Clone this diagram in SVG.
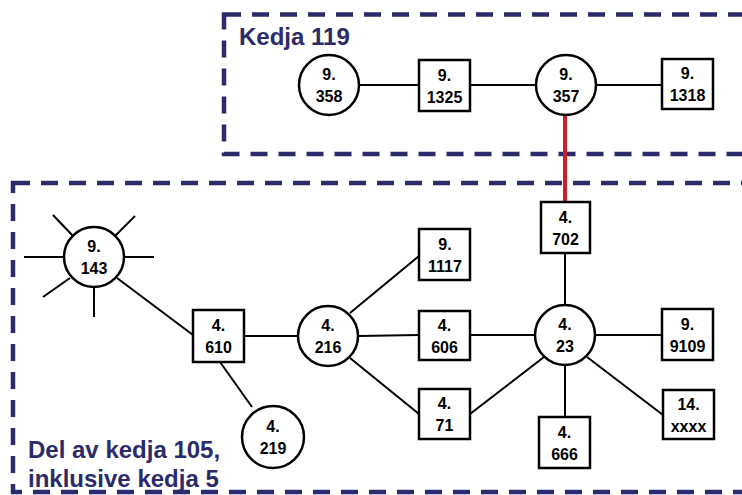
<svg xmlns="http://www.w3.org/2000/svg" width="742" height="495" viewBox="0 0 742 495">
<style>
.frame{fill:none;stroke:#2b2a6a;stroke-width:4.5;stroke-dasharray:17 11}
.lbl{font-family:"Liberation Sans",Arial,sans-serif;font-weight:bold;font-size:24px;fill:#2b2a6a}
.nd{fill:#fff;stroke:#000;stroke-width:2.5}
.t{font-family:"Liberation Sans",Arial,sans-serif;font-weight:bold;font-size:16px;fill:#000;text-anchor:middle}
.c line{stroke:#000;stroke-width:2}
.c line.red{stroke:#c8202a;stroke-width:4}
</style>
<rect width="742" height="495" fill="#fff"/>
<g id="frames">
<rect class="frame" x="224" y="14.5" width="540" height="139.5"/>
<rect class="frame" x="13" y="183" width="760" height="309"/>
<text class="lbl" x="239" y="45">Kedja 119</text>
<text class="lbl" x="28" y="458">Del av kedja 105,</text>
<text class="lbl" x="28" y="487">inklusive kedja 5</text>
</g>
<g id="connectors" class="c">
<line x1="359" y1="85" x2="419" y2="85"/>
<line x1="470" y1="85" x2="536" y2="85"/>
<line x1="596" y1="85" x2="662" y2="85"/>
<line class="red" x1="565" y1="115" x2="565" y2="202"/>
<line x1="24" y1="257" x2="64" y2="257"/>
<line x1="124" y1="257" x2="154" y2="257"/>
<line x1="94" y1="287" x2="94" y2="317"/>
<line x1="53" y1="215" x2="73" y2="236"/>
<line x1="135" y1="216" x2="115" y2="236"/>
<line x1="43" y1="297" x2="70" y2="278"/>
<line x1="117" y1="278" x2="193" y2="335"/>
<line x1="244" y1="336" x2="298" y2="336"/>
<line x1="220" y1="362" x2="252" y2="407"/>
<line x1="350" y1="313" x2="419" y2="256"/>
<line x1="358" y1="336" x2="419" y2="335"/>
<line x1="350" y1="358" x2="419" y2="414"/>
<line x1="470" y1="335" x2="535" y2="335"/>
<line x1="470" y1="414" x2="544" y2="357"/>
<line x1="565" y1="305" x2="565" y2="253"/>
<line x1="595" y1="335" x2="662" y2="335"/>
<line x1="565" y1="365" x2="565" y2="417"/>
<line x1="587" y1="357" x2="663" y2="415"/>
</g>
<g id="n9_358"><circle class="nd" cx="329" cy="85" r="30"/><text class="t" x="329" y="80">9.</text><text class="t" x="329" y="102">358</text></g>
<g id="n9_1325"><rect class="nd" x="419" y="60" width="51" height="51"/><text class="t" x="444.5" y="80.5">9.</text><text class="t" x="444.5" y="102.5">1325</text></g>
<g id="n9_357"><circle class="nd" cx="566" cy="85" r="30"/><text class="t" x="566" y="80">9.</text><text class="t" x="566" y="102">357</text></g>
<g id="n9_1318"><rect class="nd" x="662" y="59" width="51" height="50"/><text class="t" x="687.5" y="79">9.</text><text class="t" x="687.5" y="101">1318</text></g>
<g id="n4_702"><rect class="nd" x="541" y="202" width="49" height="51"/><text class="t" x="565.5" y="223">4.</text><text class="t" x="565.5" y="245">702</text></g>
<g id="n9_143"><circle class="nd" cx="94" cy="257" r="30"/><text class="t" x="94" y="252">9.</text><text class="t" x="94" y="274">143</text></g>
<g id="n4_610"><rect class="nd" x="193" y="310" width="51" height="52"/><text class="t" x="218.5" y="331">4.</text><text class="t" x="218.5" y="353">610</text></g>
<g id="n4_219"><circle class="nd" cx="273" cy="437" r="31"/><text class="t" x="273" y="432">4.</text><text class="t" x="273" y="454">219</text></g>
<g id="n4_216"><circle class="nd" cx="328" cy="336" r="30"/><text class="t" x="328" y="331">4.</text><text class="t" x="328" y="353">216</text></g>
<g id="n9_1117"><rect class="nd" x="419" y="229" width="51" height="51"/><text class="t" x="445" y="250">9.</text><text class="t" x="445" y="272">1117</text></g>
<g id="n4_606"><rect class="nd" x="419" y="311" width="51" height="49"/><text class="t" x="444.5" y="331">4.</text><text class="t" x="444.5" y="353">606</text></g>
<g id="n4_71"><rect class="nd" x="419" y="389" width="51" height="50"/><text class="t" x="444.5" y="409">4.</text><text class="t" x="444.5" y="431">71</text></g>
<g id="n4_23"><circle class="nd" cx="565" cy="335" r="30"/><text class="t" x="565" y="330">4.</text><text class="t" x="565" y="352">23</text></g>
<g id="n9_9109"><rect class="nd" x="662" y="309" width="51" height="51"/><text class="t" x="687.5" y="330">9.</text><text class="t" x="687.5" y="352">9109</text></g>
<g id="n14_xxxx"><rect class="nd" x="663" y="390" width="51" height="49"/><text class="t" x="688.5" y="410">14.</text><text class="t" x="688.5" y="432">xxxx</text></g>
<g id="n4_666"><rect class="nd" x="539" y="417" width="51" height="51"/><text class="t" x="564.5" y="438">4.</text><text class="t" x="564.5" y="460">666</text></g>
</svg>
